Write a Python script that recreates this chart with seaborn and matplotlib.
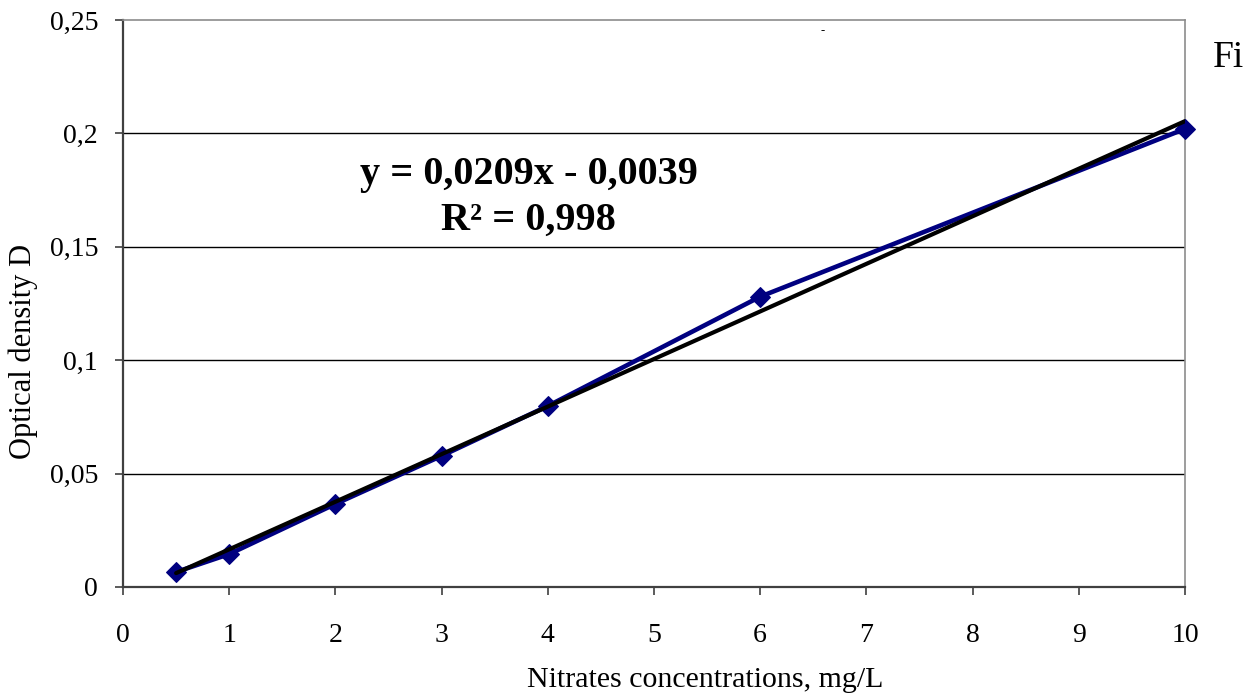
import matplotlib
matplotlib.use("Agg")
import matplotlib.pyplot as plt
import pandas as pd
import seaborn as sns

# values
concentration = [0.5, 1, 2, 3, 4, 6, 10]
optical_density = [0.0066, 0.0145, 0.0366, 0.0578, 0.0798, 0.128, 0.202]
y_ticks = [0, 0.05, 0.1, 0.15, 0.2, 0.25]
y_tick_labels = ["0", "0,05", "0,1", "0,15", "0,2", "0,25"]
x_ticks = [0, 1, 2, 3, 4, 5, 6, 7, 8, 9, 10]
equation = "y = 0,0209x - 0,0039"
r_squared = "R² = 0,998"

df = pd.DataFrame({"conc": concentration, "od": optical_density})

sns.set_style("white")
plt.rcParams["font.family"] = ["Liberation Serif", "DejaVu Serif"]
plt.rcParams["text.color"] = "black"
plt.rcParams["axes.labelcolor"] = "black"
plt.rcParams["xtick.color"] = "black"
plt.rcParams["ytick.color"] = "black"

fig = plt.figure(figsize=(12.59, 6.94), dpi=100)
ax = fig.add_axes([0.0977, 0.1542, 0.9412 - 0.0977, 0.9712 - 0.1542])

# horizontal grid lines
for yv in y_ticks[1:-1]:
    ax.axhline(yv, color="black", lw=1.0, zorder=0)

sns.lineplot(data=df, x="conc", y="od", ax=ax, color="#000080", lw=3.3,
             marker="D", markersize=10, markeredgecolor="#000080",
             clip_on=False, zorder=3)
sns.regplot(data=df, x="conc", y="od", ax=ax, scatter=False, ci=None,
            truncate=True, line_kws={"color": "black", "lw": 3.0, "zorder": 4})

ax.set_xlim(0, 10)
ax.set_ylim(0, 0.25)
ax.set_xticks(x_ticks)
ax.set_xticklabels([str(v) for v in x_ticks])
ax.set_yticks(y_ticks)
ax.set_yticklabels(y_tick_labels)
ax.tick_params(axis="both", labelsize=20, direction="out", length=6,
               width=1.2, color="#404040", labelcolor="black",
               left=True, bottom=True)
ax.tick_params(axis="x", pad=20)
ax.tick_params(axis="y", pad=12)

for side in ["top", "right"]:
    ax.spines[side].set_color("#8c8c8c")
    ax.spines[side].set_linewidth(1.2)
for side in ["left", "bottom"]:
    ax.spines[side].set_color("#404040")
    ax.spines[side].set_linewidth(1.6)

ax.set_xlabel("Nitrates concentrations, mg/L", fontsize=21.5, va="center")
ax.xaxis.set_label_coords(0.548, -0.164)
ax.set_ylabel("Optical density D", fontsize=22, va="center")
ax.yaxis.set_label_coords(-0.094, 0.416)

ax.text(3.82, 0.1818, equation, fontsize=29, fontweight="bold",
        ha="center", va="center")
ax.text(3.82, 0.1615, r_squared, fontsize=29, fontweight="bold",
        ha="center", va="center")

fig.text(0.9635, 0.917, "Fi", fontsize=27, ha="left", va="center")
fig.text(0.653, 0.955, "-", fontsize=9, ha="center", va="center")

fig.savefig("out.png", dpi=100)
